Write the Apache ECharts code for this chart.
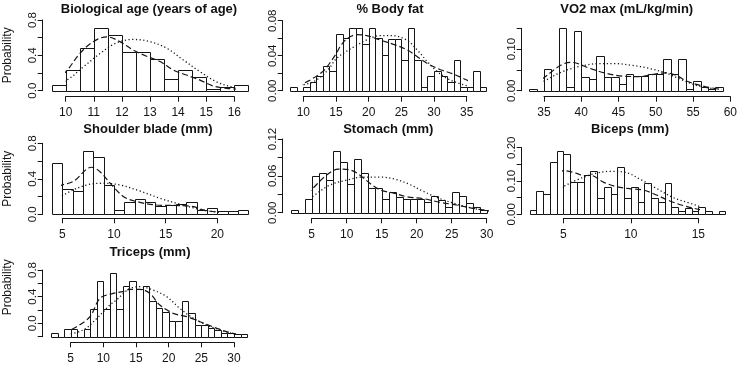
<!DOCTYPE html>
<html>
<head>
<meta charset="utf-8">
<script src="https://cdn.jsdelivr.net/npm/echarts@6/dist/echarts.min.js"></script>
<style>
  html, body { margin: 0; padding: 0; background: #fff; }
  #chart { width: 740px; height: 366px; }
</style>
</head>
<body>
<div id="chart"></div>
<script>
// Seven histograms, each with a kernel density (dashed) and a normal fit (dotted).

const ageEdges = [9.5, 10, 10.5, 11, 11.5, 12, 12.5, 13, 13.5, 14, 14.5, 15, 15.5, 16, 16.5];
const ageHeights = [0.06, 0.234, 0.48, 0.706, 0.63, 0.434, 0.434, 0.36, 0.136, 0.234, 0.16, 0.02, 0.04, 0.06];
const ageKde = [[9.44, 0.038], [10.04, 0.226], [10.5, 0.42], [10.98, 0.555], [11.46, 0.61], [11.93, 0.555], [12.4, 0.46], [12.88, 0.39], [13.36, 0.33], [13.83, 0.234], [14.3, 0.177], [14.78, 0.12], [15.25, 0.053], [15.73, 0.026], [16.44, 0.015]];
const ageNormal = [[9.44, 0.053], [10.04, 0.12], [10.63, 0.27], [11.22, 0.42], [11.8, 0.54], [12.4, 0.58], [13, 0.555], [13.6, 0.48], [14.19, 0.347], [14.78, 0.215], [15.37, 0.1], [15.97, 0.038], [16.5, 0.015]];

const fatEdges = [8, 9, 10, 11, 12, 13, 14, 15, 16, 17, 18, 19, 20, 21, 22, 23, 24, 25, 26, 27, 28, 29, 30, 31, 32, 33, 34, 35, 36, 37, 38];
const fatHeights = [0.0046, 0, 0.0046, 0.0103, 0.017, 0.0286, 0.0225, 0.0648, 0.0598, 0.0713, 0.0713, 0.053, 0.0713, 0.0606, 0.0408, 0.059, 0.059, 0.035, 0.0713, 0.035, 0.0046, 0.017, 0.0225, 0.017, 0.0103, 0.035, 0.0046, 0.0046, 0.0225, 0.0046];
const fatKde = [[9, 0.005], [11, 0.012], [13, 0.022], [13.6, 0.027], [15, 0.042], [15.6, 0.05], [16.6, 0.059], [18.2, 0.064], [19.7, 0.063], [21.7, 0.058], [23.8, 0.053], [25.8, 0.047], [27.4, 0.039], [29, 0.031], [31, 0.024], [33, 0.019], [34.5, 0.014], [36, 0.009], [38.3, 0.003]];
const fatNormal = [[9.5, 0.006], [11.5, 0.01], [13, 0.018], [14, 0.026], [15.1, 0.037], [16.6, 0.045], [18.2, 0.052], [19.7, 0.058], [21.7, 0.063], [23.5, 0.063], [25.8, 0.058], [27.5, 0.046], [29, 0.033], [30.5, 0.022], [32, 0.014], [34, 0.008], [36, 0.004], [37.5, 0.002]];

const vo2Edges = [33, 34, 35, 36, 37, 38, 39, 40, 41, 42, 43, 44, 45, 46, 47, 48, 49, 50, 51, 52, 53, 54, 55, 56, 57, 58, 59];
const vo2Heights = [0.005, 0, 0.052, 0, 0.151, 0.01, 0.144, 0.034, 0.027, 0.084, 0.034, 0.034, 0.016, 0.04, 0.035, 0.035, 0.04, 0.04, 0.077, 0.04, 0.077, 0.005, 0.023, 0.008, 0.003, 0.01];
const vo2Kde = [[32.7, 0.006], [34.9, 0.03], [37.3, 0.062], [38.7, 0.068], [41.1, 0.054], [43.3, 0.042], [45.5, 0.035], [47.7, 0.034], [49.9, 0.04], [51.3, 0.043], [52.6, 0.038], [54.3, 0.022], [56.6, 0.01], [58.8, 0.003]];
const vo2Normal = [[32.7, 0.003], [34.9, 0.022], [37.5, 0.046], [40.2, 0.06], [42.4, 0.065], [44.6, 0.065], [46.8, 0.061], [49, 0.054], [51.3, 0.043], [53.5, 0.026], [56, 0.01], [58.8, 0.003]];

const shoulderEdges = [4, 5, 6, 7, 8, 9, 10, 11, 12, 13, 14, 15, 16, 17, 18, 19, 20, 21, 22, 23];
const shoulderHeights = [0.575, 0.286, 0.263, 0.718, 0.643, 0.331, 0.049, 0.143, 0.169, 0.143, 0.098, 0.105, 0.113, 0.143, 0.049, 0.068, 0.041, 0.041, 0.049];
const shoulderKde = [[3.48, 0.16], [4.61, 0.31], [6.06, 0.37], [7.84, 0.53], [8.65, 0.48], [9.94, 0.31], [11.06, 0.19], [12.5, 0.135], [14.1, 0.105], [16.4, 0.098], [17.7, 0.086], [19, 0.038], [20.9, 0.023], [23, 0.011]];
const shoulderNormal = [[3.48, 0.086], [5.42, 0.237], [7.35, 0.33], [8.97, 0.35], [10.58, 0.33], [12.5, 0.263], [14.45, 0.18], [16.4, 0.113], [18.3, 0.056], [20.3, 0.023], [22.2, 0.008]];

const stomachEdges = [2, 3, 4, 5, 6, 7, 8, 9, 10, 11, 12, 13, 14, 15, 16, 17, 18, 19, 20, 21, 22, 23, 24, 25, 26, 27, 28, 29, 30];
const stomachHeights = [0.0044, 0, 0.022, 0.059, 0.065, 0.053, 0.101, 0.082, 0.047, 0.088, 0.064, 0.04, 0.04, 0.022, 0.034, 0.026, 0.023, 0.022, 0.022, 0.017, 0.028, 0.021, 0.01, 0.033, 0.028, 0.015, 0.01, 0.004];
const stomachKde = [[1.4, 0.002], [3.3, 0.018], [5.2, 0.04], [7.1, 0.061], [8.8, 0.071], [10.5, 0.0695], [11.9, 0.061], [13.3, 0.048], [14.8, 0.037], [16.7, 0.032], [18.6, 0.026], [20.9, 0.023], [23.3, 0.017], [25.7, 0.0125], [28.1, 0.007], [30.9, 0.002]];
const stomachNormal = [[1.4, 0.003], [3.3, 0.013], [5.2, 0.027], [7.6, 0.045], [10, 0.053], [12.4, 0.058], [14.8, 0.058], [17.1, 0.054], [19, 0.046], [20.9, 0.035], [23.3, 0.023], [25.7, 0.014], [28.1, 0.007], [30.9, 0.002]];

const bicepsEdges = [2.5, 3, 3.5, 4, 4.5, 5, 5.5, 6, 6.5, 7, 7.5, 8, 8.5, 9, 9.5, 10, 10.5, 11, 11.5, 12, 12.5, 13, 13.5, 14, 14.5, 15, 15.5, 16, 16.5, 17];
const bicepsHeights = [0.012, 0.071, 0.061, 0.156, 0.191, 0.18, 0.096, 0.096, 0.118, 0.131, 0.048, 0.083, 0.06, 0.143, 0.048, 0.083, 0.036, 0.093, 0.048, 0.036, 0.093, 0.023, 0.011, 0.02, 0.011, 0.023, 0.011, 0.002, 0.011];
const bicepsKde = [[1.8, 0.01], [2.8, 0.036], [3.8, 0.08], [4.5, 0.113], [5, 0.131], [6, 0.123], [6.5, 0.116], [7, 0.117], [8, 0.096], [8.95, 0.083], [9.9, 0.077], [10.9, 0.073], [11.9, 0.058], [12.9, 0.04], [13.9, 0.026], [14.9, 0.016], [15.9, 0.008], [17.4, 0.002]];
const bicepsNormal = [[1.8, 0.004], [3, 0.038], [4, 0.058], [5, 0.083], [6, 0.103], [7.3, 0.122], [8.5, 0.129], [9.6, 0.126], [10.7, 0.105], [11.9, 0.078], [13.15, 0.05], [14.4, 0.033], [15.6, 0.018], [17.35, 0.006]];

const tricepsEdges = [2, 3, 4, 5, 6, 7, 8, 9, 10, 11, 12, 13, 14, 15, 16, 17, 18, 19, 20, 21, 22, 23, 24, 25, 26, 27, 28, 29, 30, 31, 32];
const tricepsHeights = [-0.15, -0.2, -0.085, -0.085, -0.2, -0.085, 0.215, 0.635, 0.215, 0.75, 0.22, 0.565, 0.635, 0.515, 0.565, 0.335, 0.225, 0.165, 0.04, 0.04, 0.335, 0.15, -0.025, -0.025, -0.065, -0.1, -0.15, -0.15, -0.16, -0.16];
const tricepsKde = [[3.9, -0.15], [5.9, -0.05], [7.95, 0.1], [9.5, 0.375], [11.5, 0.45], [13, 0.475], [14.1, 0.51], [15.6, 0.51], [17.1, 0.45], [18.65, 0.275], [20.7, 0.15], [22.8, 0.1], [24.8, 0.025], [27.4, -0.075], [29.9, -0.15], [33, -0.2]];
const tricepsNormal = [[3.9, -0.18], [6.9, -0.1], [9, 0.075], [11, 0.275], [12, 0.35], [13, 0.44], [14.1, 0.525], [15.6, 0.55], [17.6, 0.5], [19.7, 0.4], [21.7, 0.225], [23.8, 0.075], [25.8, -0.025], [27.9, -0.1], [30.4, -0.165], [33, -0.19]];

// panel layout: tick ranges and where the first/last tick sit on the page
const panels = [
  { title: 'Biological age (years of age)', tx: 149, ty: 3, x: [10, 16, 1], xPx: [65.7, 234.3], y: [0, 0.8, 0.2], yPx: [90.7, 20], yShown: [0, 0.4, 0.8], dec: 1, yLine: 42.7, xLine: 96.7, ylab: 0,
    edges: ageEdges, heights: ageHeights, kde: ageKde, normal: ageNormal },
  { title: '% Body fat', tx: 390, ty: 3, x: [10, 35, 5], xPx: [303.3, 466.7], y: [0, 0.08, 0.02], yPx: [90.7, 20.7], yShown: [0, 0.04, 0.08], dec: 2, yLine: 282.7, xLine: 96.7,
    edges: fatEdges, heights: fatHeights, kde: fatKde, normal: fatNormal },
  { title: 'VO2 max (mL/kg/min)', tx: 626.7, ty: 3, x: [35, 60, 5], xPx: [544, 732.7], y: [0, 0.15, 0.05], yPx: [90.7, 28.3], yShown: [0, 0.1], dec: 2, yLine: 521.7, xLine: 96.7,
    edges: vo2Edges, heights: vo2Heights, kde: vo2Kde, normal: vo2Normal },
  { title: 'Shoulder blade (mm)', tx: 148, ty: 123, x: [5, 20, 5], xPx: [62.3, 217.3], y: [0, 0.8, 0.2], yPx: [214.3, 143.3], yShown: [0, 0.4, 0.8], dec: 1, yLine: 42.7, xLine: 218.3, ylab: 0,
    edges: shoulderEdges, heights: shoulderHeights, kde: shoulderKde, normal: shoulderNormal },
  { title: 'Stomach (mm)', tx: 388.3, ty: 123, x: [5, 30, 5], xPx: [311.7, 486.7], y: [0, 0.12, 0.03], yPx: [212.7, 139], yShown: [0, 0.06, 0.12], dec: 2, yLine: 282.7, xLine: 218.3,
    edges: stomachEdges, heights: stomachHeights, kde: stomachKde, normal: stomachNormal },
  { title: 'Biceps (mm)', tx: 630, ty: 123, x: [5, 15, 5], xPx: [563.3, 698.3], y: [0, 0.2, 0.05], yPx: [214.3, 147.7], yShown: [0, 0.1, 0.2], dec: 2, yLine: 521.7, xLine: 218.3,
    edges: bicepsEdges, heights: bicepsHeights, kde: bicepsKde, normal: bicepsNormal },
  { title: 'Triceps (mm)', tx: 150, ty: 246, x: [5, 30, 5], xPx: [70.7, 234], y: [-0.2, 0.8, 0.2], yPx: [336.7, 270], yShown: [0, 0.4, 0.8], dec: 1, yLine: 42.7, xLine: 342.3, ylab: 32,
    edges: tricepsEdges, heights: tricepsHeights, kde: tricepsKde, normal: tricepsNormal }
];

const FONT = '"Liberation Sans", Arial, Helvetica, sans-serif';
const INK = '#151515';

function histItem(base) {
  return function (params, api) {
    const a = api.coord([api.value(0), api.value(2)]);
    const b = api.coord([api.value(1), base]);
    const x0 = Math.round(a[0]), x1 = Math.round(b[0]);
    const y0 = Math.round(a[1]), y1 = Math.round(b[1]);
    return {
      type: 'rect',
      shape: { x: x0 + 0.5, y: y0 + 0.5, width: x1 - x0, height: y1 - y0 },
      style: { fill: '#fff', stroke: INK, lineWidth: 1 }
    };
  };
}

const option = { animation: false, title: [], grid: [], xAxis: [], yAxis: [], series: [] };

panels.forEach((p, i) => {
  option.title.push({
    text: p.title, left: p.tx, top: p.ty, textAlign: 'center', padding: 0,
    textStyle: { fontSize: 13, fontWeight: 'bold', color: '#111', fontFamily: FONT }
  });
  option.grid.push({
    left: p.xPx[0], top: p.yPx[1],
    width: p.xPx[1] - p.xPx[0], height: p.yPx[0] - p.yPx[1]
  });
  option.xAxis.push({
    gridIndex: i, type: 'value', min: p.x[0], max: p.x[1], interval: p.x[2],
    offset: p.xLine - p.yPx[0],
    axisLine: { onZero: false, lineStyle: { color: INK, width: 1 } },
    axisTick: { length: 5, lineStyle: { color: INK } },
    axisLabel: { margin: 10, fontSize: 12, color: INK, fontFamily: FONT, showMinLabel: true, showMaxLabel: true },
    splitLine: { show: false }
  });
  const yAxis = {
    gridIndex: i, type: 'value', min: p.y[0], max: p.y[1], interval: p.y[2],
    offset: p.xPx[0] - p.yLine,
    axisLine: { show: true, onZero: false, lineStyle: { color: INK, width: 1 } },
    axisTick: { show: true, length: 5, lineStyle: { color: INK } },
    axisLabel: {
      rotate: 90, margin: 4, fontSize: 11.5, color: INK, fontFamily: FONT,
      showMinLabel: true, showMaxLabel: true,
      formatter: (v) => p.yShown.some((s) => Math.abs(s - v) < 1e-9) ? v.toFixed(p.dec) : ''
    },
    splitLine: { show: false }
  };
  if (p.ylab !== undefined) {
    Object.assign(yAxis, {
      name: 'Probability', nameLocation: 'middle', nameRotate: 90, nameGap: 29,
      nameTextStyle: { fontSize: 12, color: INK, fontFamily: FONT, padding: [0, 0, 0, p.ylab] }
    });
  }
  option.yAxis.push(yAxis);

  option.series.push({
    type: 'custom', xAxisIndex: i, yAxisIndex: i, clip: false,
    renderItem: histItem(p.y[0]),
    encode: { x: [0, 1], y: 2 },
    data: p.heights.map((h, k) => [p.edges[k], p.edges[k + 1], h])
  });
  option.series.push({
    type: 'line', xAxisIndex: i, yAxisIndex: i, clip: false, smooth: 0.35,
    symbol: 'none', lineStyle: { color: INK, width: 1.2, type: [6, 3] },
    data: p.kde
  });
  option.series.push({
    type: 'line', xAxisIndex: i, yAxisIndex: i, clip: false, smooth: 0.35,
    symbol: 'none', lineStyle: { color: INK, width: 1.3, type: [1.2, 2.5] },
    data: p.normal
  });
});

const chart = echarts.init(document.getElementById('chart'), null, { renderer: 'canvas' });
chart.setOption(option);
</script>
</body>
</html>
